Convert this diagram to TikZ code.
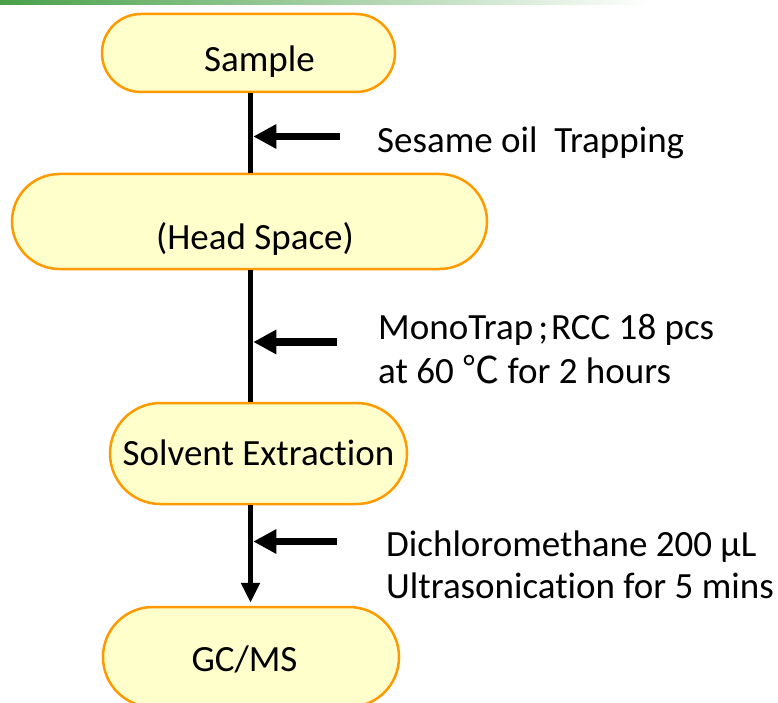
\documentclass[tikz,border=0pt]{standalone}
\usepackage{fontspec}
\setmainfont{Carlito}[Ligatures=NoCommon]
\newfontfamily\cjk{Noto Sans CJK SC}
\usetikzlibrary{arrows.meta,calc}
\definecolor{boxfill}{HTML}{FFFFCC}
\definecolor{boxline}{HTML}{FF9900}
\definecolor{bargreen}{HTML}{48A048}
\begin{document}
\begin{tikzpicture}[x=1pt,y=-1pt,
  bigtext/.style={font=\fontsize{37}{43}\selectfont},
  stadium/.style={draw=boxline, fill=boxfill, line width=2.5pt, rectangle,
    inner sep=0pt, text depth=0pt, bigtext},
  spineline/.style={line width=5.5pt, black},
  feed/.style={line width=7.5pt, black, shorten >=2.75pt,
    -{Triangle[length=23pt,width=23pt]}},
  note/.style={bigtext, anchor=base west, inner sep=0pt}]
\useasboundingbox (0,0) rectangle (778,703);
\clip (0,0) rectangle (778,703);
% green bar
\shade[left color=bargreen, right color=white] (0,0) rectangle (650,5);
\fill[white] (650,0) rectangle (778,5);
% spine x
\coordinate (sp) at (250.5,0);
% boxes
\node[stadium, minimum width=293pt, minimum height=78pt, rounded corners=38.9pt,
  text height=38pt] (sample) at (248.5,53) {\hspace*{22pt}Sample};
\node[stadium, minimum width=475pt, minimum height=95pt, rounded corners=47.4pt,
  text height=55pt] (hs) at (249.5,221.5) {\hspace*{11pt}(Head Space)};
\node[stadium, minimum width=297pt, minimum height=101pt, rounded corners=50.4pt,
  text height=23pt] (se) at (258.5,453.5) {Solvent Extraction};
\node[stadium, minimum width=296pt, minimum height=100pt, rounded corners=49.9pt,
  text height=28pt] (gc) at (251,657) {GC/MS\hspace*{13pt}};
% spine connectors
\draw[spineline] (sample.south -| sp) -- (hs.north -| sp);
\draw[spineline] (hs.south -| sp) -- (se.north -| sp);
\draw[spineline, shorten >=3pt, -{Triangle[length=20pt,width=18pt]}] (se.south -| sp) -- (gc.north -| sp);
% side feeds
\coordinate (f1) at (340,136.5);
\coordinate (f2) at (337,342);
\coordinate (f3) at (337,541.5);
\draw[feed] (f1) -- (f1 -| sp);
\draw[feed] (f2) -- (f2 -| sp);
\draw[feed] (f3) -- (f3 -| sp);
% notes
\node[note] (t1) at (377,153) {Sesame oil\ \ Trapping};
\node[note] (t2) at (378,339) {MonoTrap\hspace{5pt};\hspace{3pt}RCC 18 pcs};
\node[note] (t3) at (378,383) {at 60 {\cjk ℃} for 2 hours};
\node[note] (t4) at (386,556) {Dichloromethane 200 µL};
\node[note] (t5) at (386,598) {Ultrasonication for 5 mins};
\end{tikzpicture}
\end{document}
